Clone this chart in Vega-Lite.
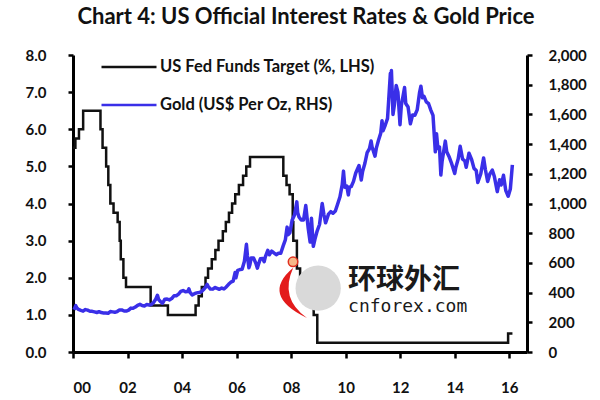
{
  "$schema": "https://vega.github.io/schema/vega-lite/v6.json",
  "width": 454,
  "height": 297,
  "autosize": "none",
  "padding": {"left": 73, "top": 55, "right": 73, "bottom": 48},
  "background": "white",
  "title": {
    "text": "Chart 4: US Official Interest Rates & Gold Price",
    "font": "Lato",
    "fontSize": 22,
    "fontWeight": "bold",
    "color": "#111111",
    "anchor": "middle",
    "dx": 6,
    "offset": 9
  },
  "config": {
    "view": {"stroke": null},
    "axis": {
      "grid": false,
      "domainColor": "black",
      "domainWidth": 3,
      "tickColor": "black",
      "tickWidth": 2.5,
      "tickSize": 5,
      "labelFont": "Lato",
      "labelFontWeight": "bold",
      "labelFontSize": 15,
      "labelColor": "#111111",
      "labelOverlap": false,
      "title": null
    },
    "legend": {
      "orient": "none",
      "legendX": 27,
      "legendY": -17,
      "symbolType": "stroke",
      "symbolSize": 3025,
      "symbolStrokeWidth": 2.5,
      "labelFont": "Lato",
      "labelFontSize": 16.5,
      "labelFontWeight": "bold",
      "labelColor": "#111111",
      "labelLimit": 0,
      "labelOffset": 2,
      "rowPadding": -21,
      "title": null
    }
  },
  "datasets": {
    "fed": [
      {"date": "2000-01-01", "rate": 5.5},
      {"date": "2000-02-02", "rate": 5.75},
      {"date": "2000-03-21", "rate": 6.0},
      {"date": "2000-05-16", "rate": 6.5},
      {"date": "2001-01-03", "rate": 6.0},
      {"date": "2001-01-31", "rate": 5.5},
      {"date": "2001-03-20", "rate": 5.0},
      {"date": "2001-04-18", "rate": 4.5},
      {"date": "2001-05-15", "rate": 4.0},
      {"date": "2001-06-27", "rate": 3.75},
      {"date": "2001-08-21", "rate": 3.5},
      {"date": "2001-09-17", "rate": 3.0},
      {"date": "2001-10-02", "rate": 2.5},
      {"date": "2001-11-06", "rate": 2.0},
      {"date": "2001-12-11", "rate": 1.75},
      {"date": "2002-11-06", "rate": 1.25},
      {"date": "2003-06-25", "rate": 1.0},
      {"date": "2004-06-30", "rate": 1.25},
      {"date": "2004-08-10", "rate": 1.5},
      {"date": "2004-09-21", "rate": 1.75},
      {"date": "2004-11-10", "rate": 2.0},
      {"date": "2004-12-14", "rate": 2.25},
      {"date": "2005-02-02", "rate": 2.5},
      {"date": "2005-03-22", "rate": 2.75},
      {"date": "2005-05-03", "rate": 3.0},
      {"date": "2005-06-30", "rate": 3.25},
      {"date": "2005-08-09", "rate": 3.5},
      {"date": "2005-09-20", "rate": 3.75},
      {"date": "2005-11-01", "rate": 4.0},
      {"date": "2005-12-13", "rate": 4.25},
      {"date": "2006-01-31", "rate": 4.5},
      {"date": "2006-03-28", "rate": 4.75},
      {"date": "2006-05-10", "rate": 5.0},
      {"date": "2006-06-29", "rate": 5.25},
      {"date": "2007-09-18", "rate": 4.75},
      {"date": "2007-10-31", "rate": 4.5},
      {"date": "2007-12-11", "rate": 4.25},
      {"date": "2008-01-22", "rate": 3.5},
      {"date": "2008-01-30", "rate": 3.0},
      {"date": "2008-03-18", "rate": 2.25},
      {"date": "2008-04-30", "rate": 2.0},
      {"date": "2008-10-08", "rate": 1.5},
      {"date": "2008-10-29", "rate": 1.0},
      {"date": "2008-12-16", "rate": 0.25},
      {"date": "2015-12-16", "rate": 0.5},
      {"date": "2016-02-12", "rate": 0.5}
    ],
    "gold": [
      {"date": "2000-01-15", "price": 284.6},
      {"date": "2000-02-07", "price": 312},
      {"date": "2000-02-20", "price": 298},
      {"date": "2000-03-15", "price": 286.4},
      {"date": "2000-04-15", "price": 280.0},
      {"date": "2000-05-15", "price": 275.3},
      {"date": "2000-06-15", "price": 285.7},
      {"date": "2000-07-15", "price": 281.6},
      {"date": "2000-08-15", "price": 274.5},
      {"date": "2000-09-15", "price": 273.7},
      {"date": "2000-10-15", "price": 270.0},
      {"date": "2000-11-15", "price": 266.0},
      {"date": "2000-12-15", "price": 271.5},
      {"date": "2001-01-15", "price": 265.5},
      {"date": "2001-02-15", "price": 261.9},
      {"date": "2001-03-15", "price": 263.0},
      {"date": "2001-04-15", "price": 260.5},
      {"date": "2001-05-15", "price": 272.4},
      {"date": "2001-06-15", "price": 270.2},
      {"date": "2001-07-15", "price": 267.5},
      {"date": "2001-08-15", "price": 272.4},
      {"date": "2001-09-15", "price": 283.4},
      {"date": "2001-10-15", "price": 283.1},
      {"date": "2001-11-15", "price": 276.2},
      {"date": "2001-12-15", "price": 275.9},
      {"date": "2002-01-15", "price": 281.7},
      {"date": "2002-02-15", "price": 295.5},
      {"date": "2002-03-15", "price": 294.1},
      {"date": "2002-04-15", "price": 302.7},
      {"date": "2002-05-15", "price": 314.5},
      {"date": "2002-06-15", "price": 321.2},
      {"date": "2002-07-15", "price": 313.3},
      {"date": "2002-08-15", "price": 310.3},
      {"date": "2002-09-15", "price": 319.2},
      {"date": "2002-10-15", "price": 316.6},
      {"date": "2002-11-15", "price": 319.2},
      {"date": "2002-12-15", "price": 333.4},
      {"date": "2003-01-15", "price": 356.9},
      {"date": "2003-02-05", "price": 382},
      {"date": "2003-02-20", "price": 355},
      {"date": "2003-03-15", "price": 340.6},
      {"date": "2003-04-15", "price": 328.2},
      {"date": "2003-05-15", "price": 355.7},
      {"date": "2003-06-15", "price": 356.4},
      {"date": "2003-07-15", "price": 351.0},
      {"date": "2003-08-15", "price": 359.8},
      {"date": "2003-09-15", "price": 378.9},
      {"date": "2003-10-15", "price": 378.9},
      {"date": "2003-11-15", "price": 389.9},
      {"date": "2003-12-15", "price": 407.6},
      {"date": "2004-01-15", "price": 414.0},
      {"date": "2004-02-15", "price": 405.3},
      {"date": "2004-03-15", "price": 406.7},
      {"date": "2004-04-01", "price": 425},
      {"date": "2004-04-15", "price": 403.0},
      {"date": "2004-05-15", "price": 383.8},
      {"date": "2004-06-15", "price": 392.4},
      {"date": "2004-07-15", "price": 398.1},
      {"date": "2004-08-15", "price": 400.5},
      {"date": "2004-09-15", "price": 405.3},
      {"date": "2004-10-15", "price": 420.5},
      {"date": "2004-11-15", "price": 439.4},
      {"date": "2004-12-02", "price": 455},
      {"date": "2004-12-15", "price": 442.1},
      {"date": "2005-01-15", "price": 424.0},
      {"date": "2005-02-15", "price": 423.4},
      {"date": "2005-03-15", "price": 434.2},
      {"date": "2005-04-15", "price": 428.9},
      {"date": "2005-05-15", "price": 421.9},
      {"date": "2005-06-15", "price": 430.7},
      {"date": "2005-07-15", "price": 424.5},
      {"date": "2005-08-15", "price": 437.9},
      {"date": "2005-09-15", "price": 456.0},
      {"date": "2005-10-15", "price": 469.9},
      {"date": "2005-11-15", "price": 476.7},
      {"date": "2005-12-12", "price": 536},
      {"date": "2005-12-22", "price": 500},
      {"date": "2006-01-15", "price": 549.9},
      {"date": "2006-02-15", "price": 555.0},
      {"date": "2006-03-15", "price": 557.1},
      {"date": "2006-04-15", "price": 610.6},
      {"date": "2006-05-12", "price": 725},
      {"date": "2006-05-25", "price": 650},
      {"date": "2006-06-14", "price": 567},
      {"date": "2006-06-28", "price": 590},
      {"date": "2006-07-15", "price": 633.7},
      {"date": "2006-08-15", "price": 632.6},
      {"date": "2006-09-15", "price": 598.2},
      {"date": "2006-10-06", "price": 565},
      {"date": "2006-10-20", "price": 590},
      {"date": "2006-11-15", "price": 627.8},
      {"date": "2006-12-15", "price": 629.8},
      {"date": "2007-01-05", "price": 608},
      {"date": "2007-01-20", "price": 640},
      {"date": "2007-02-22", "price": 685},
      {"date": "2007-03-15", "price": 654.9},
      {"date": "2007-04-15", "price": 679.4},
      {"date": "2007-05-15", "price": 667.3},
      {"date": "2007-06-15", "price": 655.5},
      {"date": "2007-07-15", "price": 665.3},
      {"date": "2007-08-15", "price": 665.4},
      {"date": "2007-09-15", "price": 712.7},
      {"date": "2007-10-15", "price": 754.6},
      {"date": "2007-11-08", "price": 841},
      {"date": "2007-11-20", "price": 790},
      {"date": "2007-12-15", "price": 803.2},
      {"date": "2008-01-15", "price": 889.6},
      {"date": "2008-02-15", "price": 922.3},
      {"date": "2008-03-17", "price": 1011},
      {"date": "2008-03-28", "price": 940},
      {"date": "2008-04-15", "price": 909.7},
      {"date": "2008-05-15", "price": 888.7},
      {"date": "2008-06-15", "price": 889.5},
      {"date": "2008-07-15", "price": 986},
      {"date": "2008-08-15", "price": 839.0},
      {"date": "2008-09-11", "price": 740},
      {"date": "2008-09-29", "price": 900},
      {"date": "2008-10-24", "price": 712},
      {"date": "2008-11-15", "price": 760.9},
      {"date": "2008-12-15", "price": 816.1},
      {"date": "2009-01-15", "price": 858.7},
      {"date": "2009-02-20", "price": 1000},
      {"date": "2009-03-15", "price": 924.3},
      {"date": "2009-04-06", "price": 870},
      {"date": "2009-04-20", "price": 890.2},
      {"date": "2009-05-15", "price": 928.6},
      {"date": "2009-06-15", "price": 945.7},
      {"date": "2009-07-15", "price": 934.2},
      {"date": "2009-08-15", "price": 949.4},
      {"date": "2009-09-15", "price": 996.6},
      {"date": "2009-10-15", "price": 1043.2},
      {"date": "2009-11-15", "price": 1127.0},
      {"date": "2009-12-02", "price": 1218},
      {"date": "2009-12-20", "price": 1110},
      {"date": "2010-01-15", "price": 1118},
      {"date": "2010-02-05", "price": 1058},
      {"date": "2010-02-20", "price": 1110},
      {"date": "2010-03-15", "price": 1113.3},
      {"date": "2010-04-15", "price": 1148.7},
      {"date": "2010-05-15", "price": 1205.4},
      {"date": "2010-06-28", "price": 1256},
      {"date": "2010-07-28", "price": 1158},
      {"date": "2010-08-15", "price": 1215.8},
      {"date": "2010-09-15", "price": 1271},
      {"date": "2010-10-15", "price": 1342.0},
      {"date": "2010-11-15", "price": 1369.9},
      {"date": "2010-12-07", "price": 1421},
      {"date": "2010-12-20", "price": 1380},
      {"date": "2011-01-28", "price": 1319},
      {"date": "2011-02-15", "price": 1372.7},
      {"date": "2011-03-15", "price": 1424.0},
      {"date": "2011-04-15", "price": 1473.8},
      {"date": "2011-05-02", "price": 1557},
      {"date": "2011-05-15", "price": 1490},
      {"date": "2011-06-15", "price": 1528.7},
      {"date": "2011-07-15", "price": 1572.8},
      {"date": "2011-08-22", "price": 1877},
      {"date": "2011-08-26", "price": 1740},
      {"date": "2011-09-05", "price": 1895},
      {"date": "2011-09-26", "price": 1600},
      {"date": "2011-10-15", "price": 1665.2},
      {"date": "2011-11-08", "price": 1795},
      {"date": "2011-12-01", "price": 1750},
      {"date": "2011-12-29", "price": 1531},
      {"date": "2012-01-15", "price": 1656.1},
      {"date": "2012-02-28", "price": 1781},
      {"date": "2012-03-15", "price": 1673.8},
      {"date": "2012-04-15", "price": 1650.1},
      {"date": "2012-05-16", "price": 1537},
      {"date": "2012-06-15", "price": 1596.7},
      {"date": "2012-07-15", "price": 1594.3},
      {"date": "2012-08-15", "price": 1630.3},
      {"date": "2012-09-15", "price": 1744.8},
      {"date": "2012-10-04", "price": 1790},
      {"date": "2012-10-25", "price": 1712},
      {"date": "2012-11-15", "price": 1721.6},
      {"date": "2012-12-15", "price": 1684.8},
      {"date": "2013-01-15", "price": 1671.9},
      {"date": "2013-02-15", "price": 1627.6},
      {"date": "2013-03-15", "price": 1593.1},
      {"date": "2013-04-15", "price": 1348},
      {"date": "2013-05-01", "price": 1470},
      {"date": "2013-05-20", "price": 1370},
      {"date": "2013-06-10", "price": 1380},
      {"date": "2013-06-28", "price": 1192},
      {"date": "2013-07-15", "price": 1285.5},
      {"date": "2013-08-27", "price": 1420},
      {"date": "2013-09-15", "price": 1348.6},
      {"date": "2013-10-15", "price": 1316.6},
      {"date": "2013-11-15", "price": 1275.8},
      {"date": "2013-12-31", "price": 1202},
      {"date": "2014-01-15", "price": 1244.3},
      {"date": "2014-02-15", "price": 1300.0},
      {"date": "2014-03-14", "price": 1385},
      {"date": "2014-04-15", "price": 1299.0},
      {"date": "2014-05-15", "price": 1287.5},
      {"date": "2014-06-03", "price": 1244},
      {"date": "2014-07-10", "price": 1339},
      {"date": "2014-08-15", "price": 1295.1},
      {"date": "2014-09-15", "price": 1236.6},
      {"date": "2014-10-15", "price": 1222.5},
      {"date": "2014-11-05", "price": 1142},
      {"date": "2014-12-15", "price": 1200.6},
      {"date": "2015-01-22", "price": 1307},
      {"date": "2015-02-15", "price": 1227.1},
      {"date": "2015-03-17", "price": 1148},
      {"date": "2015-04-15", "price": 1198.9},
      {"date": "2015-05-18", "price": 1225},
      {"date": "2015-06-15", "price": 1181.5},
      {"date": "2015-07-24", "price": 1080},
      {"date": "2015-08-24", "price": 1160},
      {"date": "2015-09-15", "price": 1124.8},
      {"date": "2015-10-15", "price": 1190},
      {"date": "2015-11-15", "price": 1086.4},
      {"date": "2015-12-17", "price": 1049},
      {"date": "2016-01-15", "price": 1097.9},
      {"date": "2016-02-11", "price": 1260}
    ],
    "one": [{"k": 1}]
  },
  "layer": [
    {
      "layer": [
        {
          "data": {"name": "fed"},
          "mark": {"type": "line", "interpolate": "step-after", "strokeWidth": 2.5},
          "encoding": {
            "x": {
              "field": "date",
              "type": "temporal",
              "scale": {"domain": [{"year": 2000, "month": 1, "date": 1}, {"year": 2016, "month": 8, "date": 25}]},
              "axis": {
                "values": [{"year": 2000}, {"year": 2002}, {"year": 2004}, {"year": 2006}, {"year": 2008}, {"year": 2010}, {"year": 2012}, {"year": 2014}, {"year": 2016}],
                "format": "%y", "tickSize": 6, "labelPadding": 22
              }
            },
            "y": {
              "field": "rate",
              "type": "quantitative",
              "scale": {"domain": [0, 8], "nice": false},
              "axis": {"values": [0, 1, 2, 3, 4, 5, 6, 7, 8], "format": ".1f", "labelPadding": 22}
            },
            "color": {
              "datum": "US Fed Funds Target (%, LHS)",
              "scale": {
                "domain": ["US Fed Funds Target (%, LHS)", "Gold (US$ Per Oz, RHS)"],
                "range": ["#111111", "#3a2fe8"]
              }
            }
          }
        },
        {
          "data": {"name": "one"},
          "mark": {"type": "point", "filled": true, "color": "#d9d9d9", "opacity": 1, "size": 2050},
          "encoding": {
            "x": {"datum": {"year": 2008, "month": 12, "date": 28}, "type": "temporal",
                  "axis": {"values": [{"year": 2000}, {"year": 2002}, {"year": 2004}, {"year": 2006}, {"year": 2008}, {"year": 2010}, {"year": 2012}, {"year": 2014}, {"year": 2016}], "format": "%y", "tickSize": 6, "labelPadding": 22}},
            "y": {"datum": 1.72, "type": "quantitative",
                  "axis": {"values": [0, 1, 2, 3, 4, 5, 6, 7, 8], "format": ".1f", "labelPadding": 22}}
          }
        },
        {
          "data": {"name": "one"},
          "mark": {"type": "point", "filled": true, "color": "#e31b1b", "opacity": 1, "size": 2916,
                   "shape": "M-0.07,-0.93 Q-1.3,0.1 0.44,0.93 Q-0.59,0.2 -0.07,-0.93 Z"},
          "encoding": {
            "x": {"datum": {"year": 2008, "month": 2, "date": 23}, "type": "temporal",
                  "axis": {"values": [{"year": 2000}, {"year": 2002}, {"year": 2004}, {"year": 2006}, {"year": 2008}, {"year": 2010}, {"year": 2012}, {"year": 2014}, {"year": 2016}], "format": "%y", "tickSize": 6, "labelPadding": 22}},
            "y": {"datum": 1.59, "type": "quantitative",
                  "axis": {"values": [0, 1, 2, 3, 4, 5, 6, 7, 8], "format": ".1f", "labelPadding": 22}}
          }
        },
        {
          "data": {"name": "one"},
          "mark": {"type": "point", "filled": true, "color": "#f6b889", "stroke": "#e03020", "strokeWidth": 1.5, "opacity": 1, "size": 90},
          "encoding": {
            "x": {"datum": {"year": 2008, "month": 1, "date": 26}, "type": "temporal",
                  "axis": {"values": [{"year": 2000}, {"year": 2002}, {"year": 2004}, {"year": 2006}, {"year": 2008}, {"year": 2010}, {"year": 2012}, {"year": 2014}, {"year": 2016}], "format": "%y", "tickSize": 6, "labelPadding": 22}},
            "y": {"datum": 2.43, "type": "quantitative",
                  "axis": {"values": [0, 1, 2, 3, 4, 5, 6, 7, 8], "format": ".1f", "labelPadding": 22}}
          }
        },
        {
          "data": {"name": "one"},
          "mark": {"type": "text", "align": "left", "baseline": "middle", "font": "Noto Sans CJK SC", "fontSize": 28, "fontWeight": "bold", "color": "#1a1a1a", "text": "环球外汇"},
          "encoding": {
            "x": {"datum": {"year": 2010, "month": 2, "date": 1}, "type": "temporal",
                  "axis": {"values": [{"year": 2000}, {"year": 2002}, {"year": 2004}, {"year": 2006}, {"year": 2008}, {"year": 2010}, {"year": 2012}, {"year": 2014}, {"year": 2016}], "format": "%y", "tickSize": 6, "labelPadding": 22}},
            "y": {"datum": 1.9, "type": "quantitative",
                  "axis": {"values": [0, 1, 2, 3, 4, 5, 6, 7, 8], "format": ".1f", "labelPadding": 22}}
          }
        },
        {
          "data": {"name": "one"},
          "mark": {"type": "text", "align": "left", "baseline": "middle", "font": "DejaVu Sans Mono", "fontSize": 18, "color": "#1a1a1a", "text": "cnforex.com"},
          "encoding": {
            "x": {"datum": {"year": 2010, "month": 2, "date": 1}, "type": "temporal",
                  "axis": {"values": [{"year": 2000}, {"year": 2002}, {"year": 2004}, {"year": 2006}, {"year": 2008}, {"year": 2010}, {"year": 2012}, {"year": 2014}, {"year": 2016}], "format": "%y", "tickSize": 6, "labelPadding": 22}},
            "y": {"datum": 1.2, "type": "quantitative",
                  "axis": {"values": [0, 1, 2, 3, 4, 5, 6, 7, 8], "format": ".1f", "labelPadding": 22}}
          }
        }
      ]
    },
    {
      "data": {"name": "gold"},
      "mark": {"type": "line", "strokeWidth": 3.5, "strokeJoin": "round"},
      "encoding": {
        "x": {
          "field": "date",
          "type": "temporal",
          "axis": {
            "values": [{"year": 2000}, {"year": 2002}, {"year": 2004}, {"year": 2006}, {"year": 2008}, {"year": 2010}, {"year": 2012}, {"year": 2014}, {"year": 2016}],
            "format": "%y", "tickSize": 6, "labelPadding": 22
          }
        },
        "y": {
          "field": "price",
          "type": "quantitative",
          "scale": {"domain": [0, 2000], "nice": false},
          "axis": {"orient": "right", "values": [0, 200, 400, 600, 800, 1000, 1200, 1400, 1600, 1800, 2000], "format": ",.0f", "labelPadding": 16}
        },
        "color": {"datum": "Gold (US$ Per Oz, RHS)"}
      }
    }
  ],
  "resolve": {"scale": {"y": "independent"}}
}
